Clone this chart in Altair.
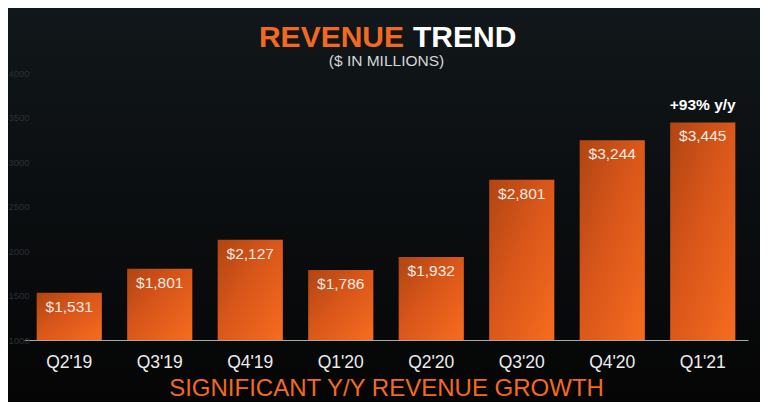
import altair as alt
import pandas as pd

# ---- data ----
quarters = ["Q2'19", "Q3'19", "Q4'19", "Q1'20", "Q2'20", "Q3'20", "Q4'20", "Q1'21"]
revenue = [1531, 1801, 2127, 1786, 1932, 2801, 3244, 3445]
y_ticks = [1000, 1500, 2000, 2500, 3000, 3500, 4000]
note_quarter = ["Q1'21"]
note_value = [3445]
note_text = ["+93% y/y"]
title_left = ["REVENUE"]
title_right = ["TREND"]
subtitle = ["($ IN MILLIONS)"]
footer = ["SIGNIFICANT Y/Y REVENUE GROWTH"]

ORANGE = "#f26a21"
FONT = "Liberation Sans"

df = pd.DataFrame({"quarter": quarters, "revenue": revenue})
notes = pd.DataFrame({"quarter": note_quarter, "revenue": note_value, "text": note_text})

bar_gradient = alt.Gradient(
    gradient="linear",
    stops=[alt.GradientStop(color="#b04512", offset=0),
           alt.GradientStop(color="#d8561a", offset=0.45),
           alt.GradientStop(color="#f76c1f", offset=1)],
    x1=0, y1=0, x2=1, y2=1,
)
bg_gradient = alt.Gradient(
    gradient="linear",
    stops=[alt.GradientStop(color="#11171a", offset=0),
           alt.GradientStop(color="#0b0e10", offset=0.5),
           alt.GradientStop(color="#050505", offset=1)],
    x1=0, y1=0, x2=0, y2=1,
)

x_enc = alt.X(
    "quarter:N", sort=quarters,
    scale=alt.Scale(paddingInner=0.28, paddingOuter=0.14),
    axis=alt.Axis(title=None, labelAngle=0, labelFontSize=17.5, labelColor="#ececec",
                  labelFont=FONT, labelPadding=13, ticks=False, tickSize=0,
                  domainColor="#a8a8a8", domainWidth=1.2, zindex=1),
)
y_enc = alt.Y(
    "revenue:Q",
    scale=alt.Scale(domain=[1000, 4000], zero=False, nice=False),
    axis=alt.Axis(title=None, values=y_ticks, format="d", labelColor="#2a3035",
                  labelFont=FONT, labelFontSize=9.5, labelAlign="left", labelPadding=16,
                  ticks=False, tickSize=0, domain=False, grid=False, zindex=1),
)

one = pd.DataFrame({"k": [0]})
bg = alt.Chart(one).mark_rect(color=bg_gradient).encode(
    x=alt.value(-16), x2=alt.value(736), y=alt.value(-65), y2=alt.value(329)
)

bars = alt.Chart(df).mark_bar(color=bar_gradient).encode(
    x=x_enc, y=y_enc, y2=alt.datum(1000)
)

labels = alt.Chart(df).mark_text(
    baseline="alphabetic", dy=19, fontSize=15.5, color="#f4ebe4", font=FONT
).encode(
    x=alt.X("quarter:N", sort=quarters), y="revenue:Q",
    text=alt.Text("revenue:Q", format="$,"),
)

note = alt.Chart(notes).mark_text(
    baseline="alphabetic", dy=-12, fontSize=15.5, fontWeight="bold", color="#ffffff", font=FONT
).encode(x=alt.X("quarter:N", sort=quarters), y="revenue:Q", text="text:N")

t1 = alt.Chart(pd.DataFrame({"t": title_left})).mark_text(
    align="right", baseline="alphabetic", fontSize=30, fontWeight="bold", color=ORANGE, font=FONT
).encode(x=alt.value(380), y=alt.value(-26), text="t:N")

t2 = alt.Chart(pd.DataFrame({"t": title_right})).mark_text(
    align="left", baseline="alphabetic", fontSize=30, fontWeight="bold", color="#ffffff", font=FONT
).encode(x=alt.value(389), y=alt.value(-26), text="t:N")

sub = alt.Chart(pd.DataFrame({"t": subtitle})).mark_text(
    align="center", baseline="alphabetic", fontSize=15.5, color="#d6d6d6", font=FONT
).encode(x=alt.value(362.5), y=alt.value(-7), text="t:N")

foot = alt.Chart(pd.DataFrame({"t": footer})).mark_text(
    align="center", baseline="alphabetic", fontSize=24, color=ORANGE, font=FONT
).encode(x=alt.value(362.5), y=alt.value(323), text="t:N")

chart = alt.layer(bg, bars, labels, note, t1, t2, sub, foot).properties(
    width=724,
    height=267,
    padding={"left": 16, "top": 65, "right": 12, "bottom": 62},
    autosize=alt.AutoSizeParams(type="none"),
    background="#070809",
).configure_view(strokeWidth=0)

chart.save("out.html", embed_options={"renderer": "svg", "actions": False})
